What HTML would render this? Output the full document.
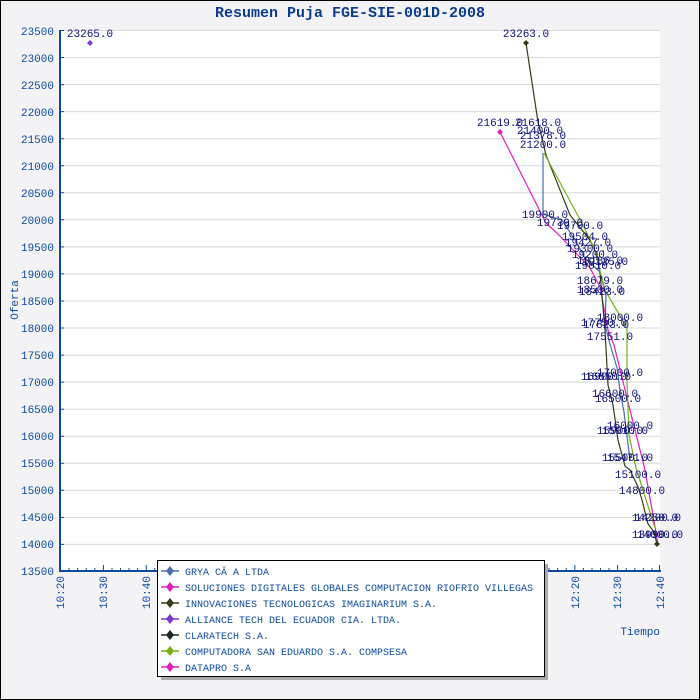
<!DOCTYPE html>
<html><head><meta charset="utf-8"><style>
body{margin:0;background:#fff}
svg{display:block}
text{font-family:"Liberation Mono","DejaVu Sans Mono",monospace}
</style></head><body>
<svg width="700" height="700" viewBox="0 0 700 700" xmlns="http://www.w3.org/2000/svg">
<rect x="0.5" y="0.5" width="699" height="699" fill="#f3f3f5" stroke="#000"/>
<text x="350" y="17" text-anchor="middle" font-size="15" font-weight="bold" fill="#0b3b8c">Resumen Puja FGE-SIE-001D-2008</text>
<rect x="60" y="30" width="600" height="541" fill="#fff"/>
<g stroke="#d8d8d8" stroke-width="1">
<line x1="60" x2="660" y1="30.5" y2="30.5"/><line x1="60" x2="660" y1="84.6" y2="84.6"/><line x1="60" x2="660" y1="138.7" y2="138.7"/><line x1="60" x2="660" y1="192.8" y2="192.8"/><line x1="60" x2="660" y1="246.9" y2="246.9"/><line x1="60" x2="660" y1="301" y2="301"/><line x1="60" x2="660" y1="355.1" y2="355.1"/><line x1="60" x2="660" y1="409.2" y2="409.2"/><line x1="60" x2="660" y1="463.3" y2="463.3"/><line x1="60" x2="660" y1="517.4" y2="517.4"/>
<line x1="60" x2="660" y1="57.5" y2="57.5"/><line x1="60" x2="660" y1="111.6" y2="111.6"/><line x1="60" x2="660" y1="165.7" y2="165.7"/><line x1="60" x2="660" y1="219.8" y2="219.8"/><line x1="60" x2="660" y1="273.9" y2="273.9"/><line x1="60" x2="660" y1="328" y2="328"/><line x1="60" x2="660" y1="382.1" y2="382.1"/><line x1="60" x2="660" y1="436.2" y2="436.2"/><line x1="60" x2="660" y1="490.3" y2="490.3"/><line x1="60" x2="660" y1="544.4" y2="544.4"/>
</g>
<g stroke="#0b4a9c" stroke-width="2" fill="none">
<line x1="60" y1="30" x2="60" y2="572"/><line x1="59" y1="571" x2="661" y2="571"/>
</g>
<g stroke="#0b4a9c" stroke-width="1" id="minor">
<path d="M60,30.5h4M60,57.5h4M60,84.6h4M60,111.6h4M60,138.7h4M60,165.7h4M60,192.8h4M60,219.8h4M60,246.9h4M60,273.9h4M60,301h4M60,328h4M60,355.1h4M60,382.1h4M60,409.2h4M60,436.2h4M60,463.3h4M60,490.3h4M60,517.4h4M60,544.4h4"/>
<path d="M60.5,571v-6M103.4,571v-6M146.2,571v-6M189,571v-6M231.9,571v-6M274.8,571v-6M317.6,571v-6M360.5,571v-6M403.3,571v-6M446.2,571v-6M489,571v-6M531.9,571v-6M574.8,571v-6M617.6,571v-6M659.5,571v-6"/>
<path d="M69,571v-3M77.6,571v-3M86.2,571v-3M94.8,571v-3M112,571v-3M120.5,571v-3M129,571v-3M137.6,571v-3M154.8,571v-3M163.4,571v-3M172,571v-3M180.5,571v-3M540.5,571v-3M549,571v-3M557.6,571v-3M566.2,571v-3M583.4,571v-3M592,571v-3M600.5,571v-3M609,571v-3M626.2,571v-3M634.8,571v-3M643.4,571v-3M652,571v-3"/>
</g>
<g font-size="11" fill="#0b4a9c" text-anchor="end">
<text x="54" y="35">23500</text><text x="54" y="62">23000</text><text x="54" y="89">22500</text><text x="54" y="116">22000</text><text x="54" y="143">21500</text><text x="54" y="170">21000</text><text x="54" y="197">20500</text><text x="54" y="224">20000</text><text x="54" y="251">19500</text><text x="54" y="278">19000</text><text x="54" y="305">18500</text><text x="54" y="332">18000</text><text x="54" y="359">17500</text><text x="54" y="386">17000</text><text x="54" y="413">16500</text><text x="54" y="440">16000</text><text x="54" y="467">15500</text><text x="54" y="494">15000</text><text x="54" y="521">14500</text><text x="54" y="548">14000</text><text x="54" y="575">13500</text>
</g>
<g font-size="11" fill="#0b4a9c" text-anchor="end">
<text transform="translate(64,576) rotate(-90)">10:20</text>
<text transform="translate(107,576) rotate(-90)">10:30</text>
<text transform="translate(150,576) rotate(-90)">10:40</text>
<text transform="translate(579,576) rotate(-90)">12:20</text>
<text transform="translate(621,576) rotate(-90)">12:30</text>
<text transform="translate(664,576) rotate(-90)">12:40</text>
</g>
<text transform="translate(18,300) rotate(-90)" font-size="11" fill="#0b4a9c" text-anchor="middle">Oferta</text>
<text x="660" y="635" font-size="11" fill="#0b4a9c" text-anchor="end">Tiempo</text>
<g fill="none" stroke-width="1.2">
<polyline stroke="#4a6fb0" points="543,153 543,214 562,220 575,240 585,258 600,272 606,296 605,325 610,344 617,368 620,390 624,412 627,436 630,460"/>
<polyline stroke="#e020c0" points="500,132 546,223 560,236 575,252 590,268 600,287 608,330 614,345 630,410 645,470 658,544"/>
<polyline stroke="#333d1a" points="526,43 538,122 546,155 570,215 590,240 598,258 600,273 605,330 608,385 613,405 618,440 625,466 630,470 638,487 642,500 648,524 654,532 657,544"/>
<polyline stroke="#7ab010" points="544,153 583,225 594,248 605,290 627,328 627,381 629,435 636,468 655,528"/>
</g>
<g font-size="11" fill="#10107a" text-anchor="middle">
<text x="90" y="37">23265.0</text><text x="526" y="37">23263.0</text>
<text x="500" y="126">21619.0</text><text x="538" y="126">21618.0</text><text x="540" y="134">21400.0</text><text x="543" y="139">21378.0</text><text x="543" y="148">21200.0</text>
<text x="545" y="218">19900.0</text><text x="560" y="226">19739.0</text><text x="580" y="229">19700.0</text><text x="585" y="240">19504.0</text><text x="588" y="246">19427.0</text><text x="590" y="252">19300.0</text><text x="595" y="258">19200.0</text><text x="600" y="264">19136.0</text><text x="605" y="265">19125.0</text><text x="598" y="269">19010.0</text>
<text x="600" y="284">18679.0</text><text x="600" y="293">18500.0</text><text x="602" y="295">18423.0</text>
<text x="620" y="321">18000.0</text><text x="604" y="326">17750.0</text><text x="606" y="328">17823.0</text><text x="610" y="340">17551.0</text>
<text x="620" y="376">17000.0</text><text x="604" y="380">16900.0</text><text x="608" y="380">16850.0</text>
<text x="615" y="397">16600.0</text><text x="618" y="402">16500.0</text>
<text x="630" y="429">16000.0</text><text x="620" y="434">15900.0</text><text x="625" y="434">15910.0</text>
<text x="625" y="461">15500.0</text><text x="630" y="461">15471.0</text><text x="638" y="478">15100.0</text><text x="642" y="494">14800.0</text>
<text x="655" y="521">14250.0</text><text x="658" y="521">14200.0</text><text x="655" y="538">13990.0</text><text x="660" y="538">14000.0</text>
</g>
<g>
<path d="M90,40 l3,3 -3,3 -3,-3z" fill="#7a3ad0"/>
<path d="M526,40 l3,3 -3,3 -3,-3z" fill="#333d1a"/>
<path d="M500,129 l3,3 -3,3 -3,-3z" fill="#e020c0"/>
<path d="M657,541 l3,3 -3,3 -3,-3z" fill="#333d1a"/>
</g>
<rect x="161" y="564" width="387" height="116" fill="#aaa"/>
<rect x="157.5" y="560.5" width="387" height="116" fill="#fff" stroke="#000"/>
<g font-size="10" fill="#0b4a9c">
<text x="185" y="575">GRYA CĂ A LTDA</text>
<text x="185" y="591">SOLUCIONES DIGITALES GLOBALES COMPUTACION RIOFRIO VILLEGAS</text>
<text x="185" y="607">INNOVACIONES TECNOLOGICAS IMAGINARIUM S.A.</text>
<text x="185" y="623">ALLIANCE TECH DEL ECUADOR CIA. LTDA.</text>
<text x="185" y="639">CLARATECH S.A.</text>
<text x="185" y="655">COMPUTADORA SAN EDUARDO S.A. COMPSESA</text>
<text x="185" y="671">DATAPRO S.A</text>
</g>
<g stroke-width="1.5">
<line x1="161" x2="179" y1="571" y2="571" stroke="#4a6fb0"/><path d="M170,566 l4,5 -4,5 -4,-5z" fill="#4a6fb0"/>
<line x1="161" x2="179" y1="587" y2="587" stroke="#e020c0"/><path d="M170,582 l4,5 -4,5 -4,-5z" fill="#e020c0"/>
<line x1="161" x2="179" y1="603" y2="603" stroke="#333d1a"/><path d="M170,598 l4,5 -4,5 -4,-5z" fill="#333d1a"/>
<line x1="161" x2="179" y1="619" y2="619" stroke="#7a3ad0"/><path d="M170,614 l4,5 -4,5 -4,-5z" fill="#7a3ad0"/>
<line x1="161" x2="179" y1="635" y2="635" stroke="#1a2a22"/><path d="M170,630 l4,5 -4,5 -4,-5z" fill="#1a2a22"/>
<line x1="161" x2="179" y1="651" y2="651" stroke="#7ab010"/><path d="M170,646 l4,5 -4,5 -4,-5z" fill="#7ab010"/>
<line x1="161" x2="179" y1="667" y2="667" stroke="#e020c0"/><path d="M170,662 l4,5 -4,5 -4,-5z" fill="#e020c0"/>
</g>
</svg>
</body></html>
